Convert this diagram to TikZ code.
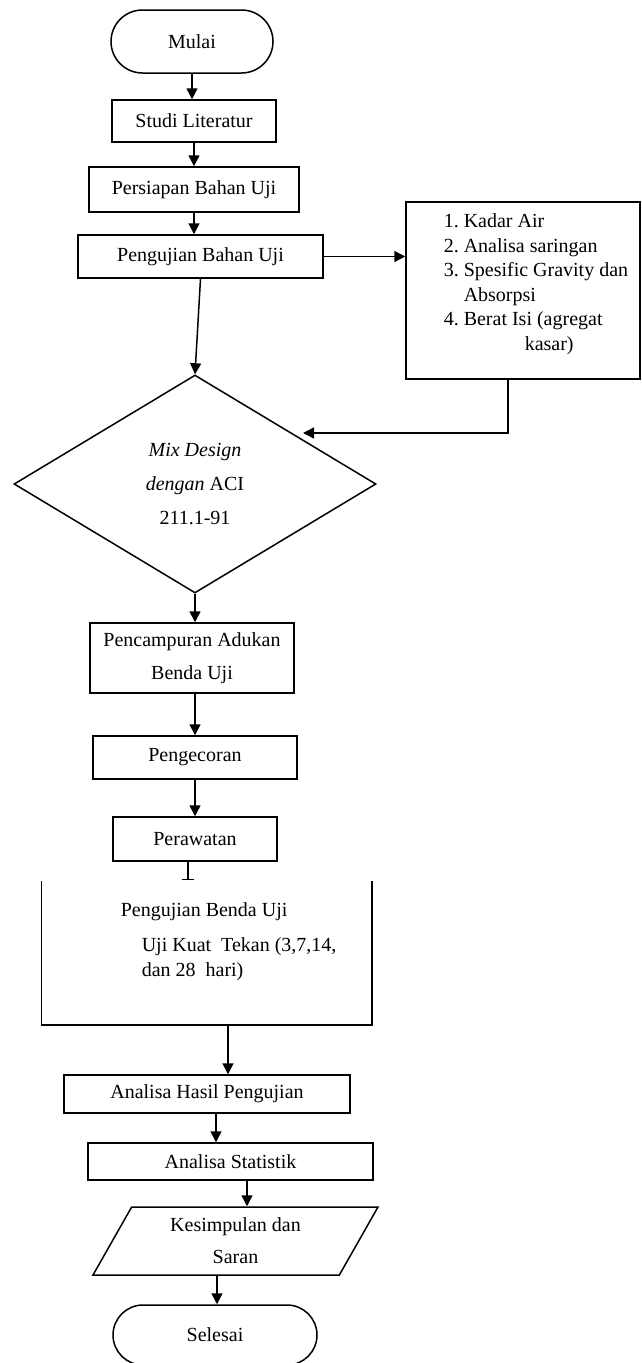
\documentclass[tikz,border=0pt]{standalone}
\usepackage{fontspec}
\setmainfont{Liberation Serif}
\usetikzlibrary{positioning, shapes.geometric, shapes.misc, arrows.meta}
\newlength\strokewidth
\setlength\strokewidth{1.5pt}
\tikzset{
	    proses/.style = {draw, rectangle, inner sep=0pt, align=center},
	  terminal/.style = {draw, rounded rectangle, inner sep=0pt},
	 keputusan/.style = {draw, diamond, inner sep=0pt, align=center},
	  keluaran/.style = {draw, trapezium, trapezium left angle=50, trapezium right angle=130,
	                     trapezium stretches body=true, inner sep=0pt, align=center},
	     panah/.style = {-{Triangle[length=11pt, width=11pt]}},
	    buntu/.style = {-{Bar[width=12pt]}},
	      teks/.style = {inner sep=0pt, align=left}
}

\begin{document}
\begin{tikzpicture}[x=1pt, y=-1pt, line width=\strokewidth,
		every node/.style={font=\fontsize{20}{25}\selectfont}]
		\useasboundingbox (0,0) rectangle (641,1363);
		\node[terminal, minimum width=162pt, minimum height=63pt] (mulai) at (192,41.5) {Mulai};
		\node[proses, minimum width=164pt, minimum height=42pt] (studi) at (194,121) {Studi Literatur};
		\node[proses, minimum width=210pt, minimum height=45pt] (persiapan) at (194,189.5) {Persiapan Bahan Uji};
		\node[proses, minimum width=245pt, minimum height=43pt] (pbahan) at (200.5,256.5) {Pengujian Bahan Uji};
		\node[proses, minimum width=234pt, minimum height=177pt] (ujibox) at (523,290.5) {};
		\node[teks, anchor=west] (ujilist) at (443,284) {%
			\fontsize{20}{24.5}\selectfont
			\begin{tabular}{@{}l@{\hspace{5pt}}l@{}}
				1. & Kadar Air \\
				2. & Analisa saringan \\
				3. & Spesific Gravity dan \\
				   & Absorpsi \\
				4. & Berat Isi (agregat \\
				   & \hspace*{61pt}kasar)
			\end{tabular}};
		\node[keputusan, minimum width=362pt, minimum height=218pt,
			font=\fontsize{20}{34}\selectfont] (mix) at (195,484)
			{\textit{Mix Design}\\\textit{dengan} ACI\\211.1-91};
		\node[proses, minimum width=204pt, minimum height=70pt,
			font=\fontsize{20}{33}\selectfont] (pencampuran) at (192,658) {Pencampuran Adukan\\Benda Uji};
		\node[proses, minimum width=204pt, minimum height=43pt] (pengecoran) at (195,757.5) {Pengecoran};
		\node[proses, minimum width=164pt, minimum height=44pt] (perawatan) at (195,839) {Perawatan};
		\node[minimum width=329pt, minimum height=142pt] (benda) at (206.5,953) {};
		\node[teks, anchor=west] (bendajudul) at (120,912) {Pengujian Benda Uji};
		\node[teks, anchor=west] (bendaisi) at (141,959.5) {Uji Kuat~~Tekan (3,7,14,\\dan 28~~hari)};
		\node[proses, minimum width=286pt, minimum height=38pt] (hasil) at (207,1094) {Analisa Hasil Pengujian};
		\node[proses, minimum width=285pt, minimum height=37pt] (statistik) at (230.5,1161.5) {Analisa Statistik};
		\node[keluaran, minimum width=285pt, minimum height=68pt,
			font=\fontsize{20}{32}\selectfont] (simpulan) at (235.5,1241) {Kesimpulan dan\\Saran};
		\node[terminal, minimum width=204pt, minimum height=60pt] (selesai) at (215,1335) {Selesai};
		\coordinate (mixmasuk)   at (303,433);
		\coordinate (bendamasuk) at (188,880);
		\draw (benda.north west) |- (benda.south east) -- (benda.north east);
		\draw[panah]
			(mulai.south)      -- (mulai.south |- studi.north);
		\draw[panah]
			(studi.south)      -- (studi.south |- persiapan.north);
		\draw[panah]
			(persiapan.south)  -- (persiapan.south |- pbahan.north);
		\draw[panah]
			(pbahan.east)      -- (pbahan.east -| ujibox.west);
		\draw[panah]
			(pbahan.south)     -- (mix.north);
		\draw[panah]
			([xshift=-15pt]ujibox.south) |- (mixmasuk);
		\draw[panah]
			(mix.south)        -- (mix.south |- pencampuran.north);
		\draw[panah]
			(pengecoran.north |- pencampuran.south) -- (pengecoran.north);
		\draw[panah]
			(pengecoran.south) -- (pengecoran.south |- perawatan.north);
		\draw[buntu]
			([xshift=-7pt]perawatan.south) -- (bendamasuk);
		\draw[panah]
			([xshift=21.5pt]benda.south) -- ([xshift=21.5pt]benda.south |- hasil.north);
		\draw[panah]
			([xshift=9pt]hasil.south) -- ([xshift=9pt]hasil.south |- statistik.north);
		\draw[panah]
			([xshift=16.5pt]statistik.south) -- ([xshift=16.5pt]statistik.south |- simpulan.north);
		\draw[panah]
			([xshift=-18.5pt]simpulan.south) -- ([xshift=-18.5pt]simpulan.south |- selesai.north);
\end{tikzpicture}
\end{document}
